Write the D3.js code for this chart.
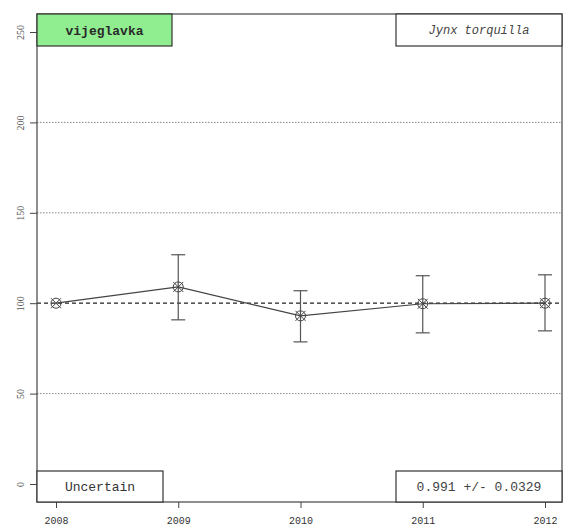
<!DOCTYPE html>
<html><head><meta charset="utf-8">
<script src="https://cdn.jsdelivr.net/npm/d3@7"></script>
<style>body{margin:0;background:#fff}svg{display:block}</style>
</head><body><svg id="c" width="564" height="528"></svg>
<script>
const years = [2008, 2009, 2010, 2011, 2012];
const index = [100, 109, 93, 99.7, 100];
const lower = [100, 90.8, 78.6, 83.6, 84.7];
const upper = [100, 126.8, 106.9, 115.2, 115.7];
const yTicks = [0, 50, 100, 150, 200, 250];
const gridLines = [50, 150, 200];
const refLine = 100;
const labelTopLeft = "vijeglavka";
const labelTopRight = "Jynx torquilla";
const labelBottomLeft = "Uncertain";
const labelBottomRight = "0.991 +/- 0.0329";

const svg = d3.select("#c");
const L = 37, R = 562, T = 14, B = 502;
const x = d3.scaleLinear().domain([2008, 2012]).range([56, 545]);
const y = d3.scaleLinear().domain([0, 250]).range([484, 32]);

// grid
svg.selectAll("line.grid").data(gridLines).join("line")
  .attr("x1", L).attr("x2", R).attr("y1", d => y(d)).attr("y2", d => y(d))
  .attr("stroke", "#888").attr("stroke-width", 1).attr("stroke-dasharray", "1.5,1.5");
svg.append("line").attr("x1", L).attr("x2", R).attr("y1", y(refLine)).attr("y2", y(refLine))
  .attr("stroke", "#222").attr("stroke-width", 1.2).attr("stroke-dasharray", "4,3");

// axes
const yAxis = d3.axisLeft(y).tickValues(yTicks).tickSize(7).tickFormat(d3.format("d"));
const gy = svg.append("g").attr("transform", `translate(${L},0)`).call(yAxis);
gy.select(".domain").remove();
gy.selectAll(".tick line").attr("stroke", "#444");
gy.selectAll(".tick text").attr("transform", "rotate(-90)").attr("x", 0).attr("y", -17)
  .attr("dy", "0.35em").attr("text-anchor", "middle")
  .attr("font-family", "Liberation Serif").attr("font-size", 10).attr("fill", "#555");

const xAxis = d3.axisBottom(x).tickValues(years).tickSize(6).tickFormat(d3.format("d"));
const gx = svg.append("g").attr("transform", `translate(0,${B})`).call(xAxis);
gx.select(".domain").remove();
gx.selectAll(".tick line").attr("stroke", "#444");
gx.selectAll(".tick text").attr("y", 15).attr("font-family", "Liberation Mono")
  .attr("font-size", 10).attr("fill", "#333");

// frame
svg.append("rect").attr("x", L).attr("y", T).attr("width", R - L).attr("height", B - T)
  .attr("fill", "none").attr("stroke", "#444").attr("stroke-width", 1.2);

// error bars
const data = years.map((yr, i) => ({yr, v: index[i], lo: lower[i], hi: upper[i]}));
const eb = data.filter(d => d.hi > d.lo);
svg.selectAll("line.eb").data(eb).join("line")
  .attr("x1", d => x(d.yr)).attr("x2", d => x(d.yr)).attr("y1", d => y(d.lo)).attr("y2", d => y(d.hi))
  .attr("stroke", "#555").attr("stroke-width", 1.2);
["lo", "hi"].forEach(k => {
  svg.selectAll("line.cap" + k).data(eb).join("line")
    .attr("x1", d => x(d.yr) - 7).attr("x2", d => x(d.yr) + 7)
    .attr("y1", d => y(d[k])).attr("y2", d => y(d[k]))
    .attr("stroke", "#555").attr("stroke-width", 1.2);
});

// line
svg.append("path").datum(data)
  .attr("d", d3.line().x(d => x(d.yr)).y(d => y(d.v)))
  .attr("fill", "none").attr("stroke", "#444").attr("stroke-width", 1.2);

// markers (circle with X)
const m = svg.selectAll("g.m").data(data).join("g").attr("transform", d => `translate(${x(d.yr)},${y(d.v)})`);
m.append("circle").attr("r", 5).attr("fill", "none").attr("stroke", "#444").attr("stroke-width", 1);
m.append("path").attr("d", "M-5,-5L5,5M-5,5L5,-5").attr("stroke", "#444").attr("stroke-width", 1);

// label boxes
function box(x0, y0, x1, y1, fill, text, opts) {
  svg.append("rect").attr("x", x0).attr("y", y0).attr("width", x1 - x0).attr("height", y1 - y0)
    .attr("fill", fill).attr("stroke", "#333").attr("stroke-width", 1.2);
  svg.append("text").attr("x", (x0 + x1) / 2).attr("y", (y0 + y1) / 2).attr("dy", "0.35em")
    .attr("text-anchor", "middle").attr("font-family", "Liberation Mono")
    .attr("font-size", opts.size || 13).attr("font-weight", opts.weight || "normal")
    .attr("font-style", opts.style || "normal").attr("fill", opts.color || "#333").text(text);
}
box(L, T, 172, 46, "#90ee90", labelTopLeft, {weight: "bold", color: "#2a2a2a"});
box(396, T, R, 46, "#fff", labelTopRight, {style: "italic", color: "#444", size: 12});
box(L, 471, 163, B, "#fff", labelBottomLeft, {color: "#333"});
box(396, 471, R, B, "#fff", labelBottomRight, {color: "#444"});
</script></body></html>
